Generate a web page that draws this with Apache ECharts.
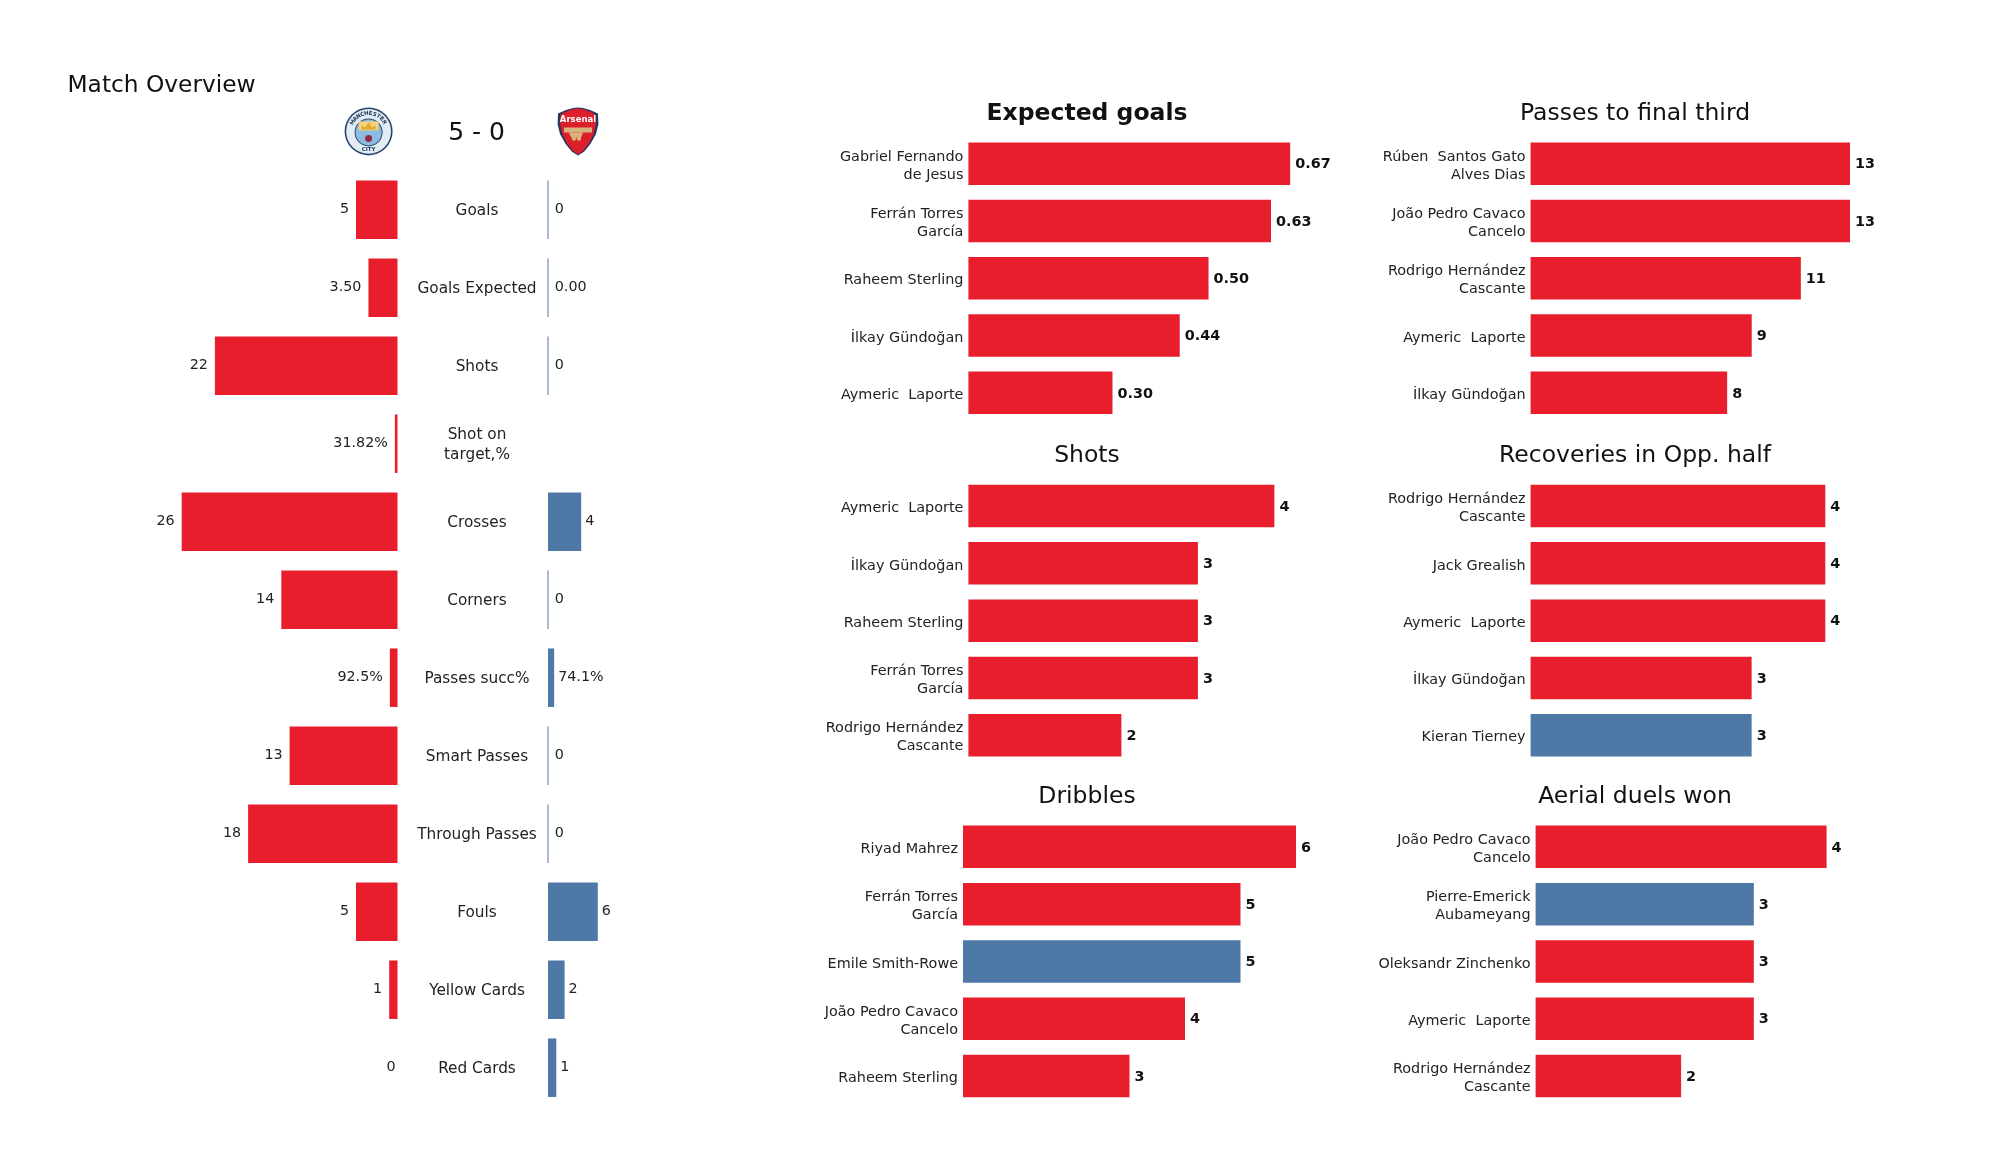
<!DOCTYPE html>
<html><head><meta charset="utf-8">
<style>html,body{margin:0;padding:0;background:#fff}#c{width:2000px;height:1175px}</style>
<script src="https://cdn.jsdelivr.net/npm/echarts@6/dist/echarts.min.js"></script>
</head><body><div id="c"></div>
<script>
const RED = '#E91E2C', BLUE = '#4E79A7', ZERO = '#8FA5C2';
const FONT = '"DejaVu Sans"';

const statNames = ['Goals','Goals Expected','Shots','Shot on\ntarget,%','Crosses','Corners','Passes succ%','Smart Passes','Through Passes','Fouls','Yellow Cards','Red Cards'];
const homeBars = [5,3.5,22,0.3182,26,14,0.925,13,18,5,1,0];
const awayBars = [0,0,0,null,4,0,0.741,0,0,6,2,1];
const homeLabels = ['5','3.50','22','31.82%','26','14','92.5%','13','18','5','1','0'];
const awayLabels = ['0','0.00','0','','4','0','74.1%','0','0','6','2','1'];

const xgNames = ['Gabriel Fernando\nde Jesus','Ferrán Torres\nGarcía','Raheem Sterling','İlkay Gündoğan','Aymeric  Laporte'];
const xgValues = [0.67,0.63,0.50,0.44,0.30];
const xgTeams = ['h','h','h','h','h'];

const shotNames = ['Aymeric  Laporte','İlkay Gündoğan','Raheem Sterling','Ferrán Torres\nGarcía','Rodrigo Hernández\nCascante'];
const shotValues = [4,3,3,3,2];
const shotTeams = ['h','h','h','h','h'];

const dribbleNames = ['Riyad Mahrez','Ferrán Torres\nGarcía','Emile Smith-Rowe','João Pedro Cavaco\nCancelo','Raheem Sterling'];
const dribbleValues = [6,5,5,4,3];
const dribbleTeams = ['h','h','a','h','h'];

const finalThirdNames = ['Rúben  Santos Gato\nAlves Dias','João Pedro Cavaco\nCancelo','Rodrigo Hernández\nCascante','Aymeric  Laporte','İlkay Gündoğan'];
const finalThirdValues = [13,13,11,9,8];
const finalThirdTeams = ['h','h','h','h','h'];

const recoveryNames = ['Rodrigo Hernández\nCascante','Jack Grealish','Aymeric  Laporte','İlkay Gündoğan','Kieran Tierney'];
const recoveryValues = [4,4,4,3,3];
const recoveryTeams = ['h','h','h','h','a'];

const aerialNames = ['João Pedro Cavaco\nCancelo','Pierre-Emerick\nAubameyang','Oleksandr Zinchenko','Aymeric  Laporte','Rodrigo Hernández\nCascante'];
const aerialValues = [4,3,3,3,2];
const aerialTeams = ['h','a','h','h','h'];

const grid=[], xAxis=[], yAxis=[], series=[], title=[];

function richLabel(size,lh,align,margin,padTop){
  return {margin,align,padding:[padTop,0,0,0],
    formatter:v=>v.split('\n').map(l=>'{a|'+l+'}').join('\n'),
    rich:{a:{fontFamily:FONT,fontSize:size,lineHeight:lh,color:'#222',align}}};
}
function addTitle(text,x,y,size,weight,align){
  title.push({text,left:x,top:y,padding:0,textAlign:align||'center',textVerticalAlign:'middle',
    textStyle:{fontFamily:FONT,fontSize:size,fontWeight:weight||'normal',color:'#111'}});
}
function addGrid(left,top,width,height,xmax,inverse,cats,labelOpt,pos){
  const i=grid.length;
  grid.push({left,top,width,height,containLabel:false});
  xAxis.push({gridIndex:i,type:'value',min:0,max:xmax,inverse:!!inverse,show:false});
  yAxis.push({gridIndex:i,type:'category',inverse:true,data:cats,position:pos||'left',
    axisLine:{show:false},axisTick:{show:false},splitLine:{show:false},
    axisLabel:Object.assign({interval:0,fontFamily:FONT,color:'#222'},labelOpt)});
  return i;
}
function panel(head,bold,names,values,teams,fmt,left,top,w,cx,ty){
  const i=addGrid(left,top,w,286.5,values[0],false,names,richLabel(14.4,18,'right',5,5));
  series.push({type:'bar',xAxisIndex:i,yAxisIndex:i,barWidth:42.5,silent:true,animation:false,
    data:values.map((v,k)=>({value:v,itemStyle:{color:teams[k]==='a'?BLUE:RED}})),
    label:{show:true,position:'right',distance:5,offset:[0,1],formatter:p=>fmt(p.value),
      fontFamily:FONT,fontSize:14.4,fontWeight:'bold',color:'#111'}});
  addTitle(head,cx,ty,23.5,bold?'bold':'normal');
}

// Left comparison
const h=addGrid(148.5,170.7,249,936,30,true,statNames,richLabel(15.3,19.5,'center',79.5,2.5),'right');
series.push({type:'bar',xAxisIndex:h,yAxisIndex:h,barWidth:58.5,silent:true,animation:false,
  data:homeBars.map((v,k)=>({value:v,itemStyle:{color:v===0?'rgba(0,0,0,0)':RED},
    label:{distance:v===0?2:7}})),
  label:{show:true,position:'left',formatter:p=>homeLabels[p.dataIndex],
    fontFamily:FONT,fontSize:14.3,color:'#222'}});
const a=addGrid(548,170.7,83,936,10,false,statNames,{show:false});
series.push({type:'bar',xAxisIndex:a,yAxisIndex:a,barWidth:58.5,silent:true,animation:false,
  data:awayBars.map((v,k)=>({value:v,
    itemStyle:{color:BLUE,borderColor:v===0?ZERO:BLUE,borderWidth:v===0?1.5:0},
    label:{distance:v===0?6:4}})),
  label:{show:true,position:'right',formatter:p=>awayLabels[p.dataIndex],
    fontFamily:FONT,fontSize:14.3,color:'#222'}});

panel('Expected goals',true,xgNames,xgValues,xgTeams,v=>v.toFixed(2),968.4,135,321.8,1087,113.5);
panel('Shots',false,shotNames,shotValues,shotTeams,v=>v,968.4,477.4,306,1087,455.5);
panel('Dribbles',false,dribbleNames,dribbleValues,dribbleTeams,v=>v,963,818.2,333,1087,796.5);
panel('Passes to final third',false,finalThirdNames,finalThirdValues,finalThirdTeams,v=>v,1530.6,135,319.4,1635,113.5);
panel('Recoveries in Opp. half',false,recoveryNames,recoveryValues,recoveryTeams,v=>v,1530.6,477.4,294.7,1635,455.5);
panel('Aerial duels won',false,aerialNames,aerialValues,aerialTeams,v=>v,1535.6,818.2,291,1635,796.5);

addTitle('Match Overview',67.5,85.5,23.3,'normal','left');
addTitle('5 - 0',476.5,133.5,25,'normal');

// Club crests
const crest=[];
const cx=368.6, cy=131.4;
crest.push({type:'circle',shape:{cx,cy,r:24},style:{fill:'#23456F'}});
crest.push({type:'circle',shape:{cx,cy,r:22.4},style:{fill:'#E4ECF3'}});
crest.push({type:'circle',shape:{cx,cy:cy+1,r:14},style:{fill:'#2B4F78'}});
crest.push({type:'circle',shape:{cx,cy:cy+1,r:13},style:{fill:'#8DBBE0'}});
crest.push({type:'rect',shape:{x:cx-10,y:cy-10,width:20,height:9},style:{fill:'#F3D27A'}});
crest.push({type:'polygon',shape:{points:[[cx-7,cy-2],[cx+7,cy-2],[cx+7,cy-6],[cx+3.5,cy-4],[cx,cy-9],[cx-3.5,cy-4],[cx-7,cy-6]]},style:{fill:'#E0A92F'}});
crest.push({type:'circle',shape:{cx,cy:cy+7,r:3.5},style:{fill:'#8E2A44'}});
'MANCHESTER'.split('').forEach((ch,k)=>{
  const ang=(-60+k*13.3)*Math.PI/180;
  crest.push({type:'text',x:cx+18*Math.sin(ang),y:cy-18*Math.cos(ang),rotation:-ang,
    style:{text:ch,fontSize:5.5,fontWeight:'bold',fontFamily:FONT,fill:'#1D3557',align:'center',verticalAlign:'middle'}});
});
crest.push({type:'text',x:cx,y:cy+18.5,style:{text:'CITY',fontSize:5.5,fontWeight:'bold',fontFamily:FONT,fill:'#1D3557',align:'center',verticalAlign:'middle'}});

const ax=578, ay=107.5;
const shield=(w,t,hh)=>[[-w,t+6],[-w*.6,t+2.5],[-w*.25,t+.5],[0,t],[w*.25,t+.5],[w*.6,t+2.5],[w,t+6],[w*1.02,t+hh*.35],[w*.9,t+hh*.55],[w*.62,t+hh*.76],[w*.3,t+hh*.92],[0,t+hh],[-w*.3,t+hh*.92],[-w*.62,t+hh*.76],[-w*.9,t+hh*.55],[-w*1.02,t+hh*.35]].map(p=>[ax+p[0],ay+p[1]]);
crest.push({type:'polygon',shape:{points:shield(20,0,48)},style:{fill:'#2A3560'}});
crest.push({type:'polygon',shape:{points:shield(17.5,1,46)},style:{fill:'#DB1F2B'}});
crest.push({type:'text',x:ax,y:ay+12.5,style:{text:'Arsenal',fontSize:8.5,fontWeight:'bold',fontFamily:FONT,fill:'#fff',align:'center',verticalAlign:'middle'}});
crest.push({type:'rect',shape:{x:ax-14,y:ay+20,width:28,height:5},style:{fill:'#D9B27C'}});
crest.push({type:'polygon',shape:{points:[[ax-9,ay+25],[ax+5,ay+25],[ax+3,ay+30],[ax-7,ay+30]]},style:{fill:'#D9B27C'}});
crest.push({type:'circle',shape:{cx:ax-4,cy:ay+31,r:2.2},style:{fill:'#D9B27C'}});
crest.push({type:'circle',shape:{cx:ax+1,cy:ay+31,r:2.2},style:{fill:'#D9B27C'}});

const chart=echarts.init(document.getElementById('c'),null,{renderer:'canvas'});
chart.setOption({animation:false,backgroundColor:'#fff',title,grid,xAxis,yAxis,series,
  graphic:{elements:crest}});
</script></body></html>
